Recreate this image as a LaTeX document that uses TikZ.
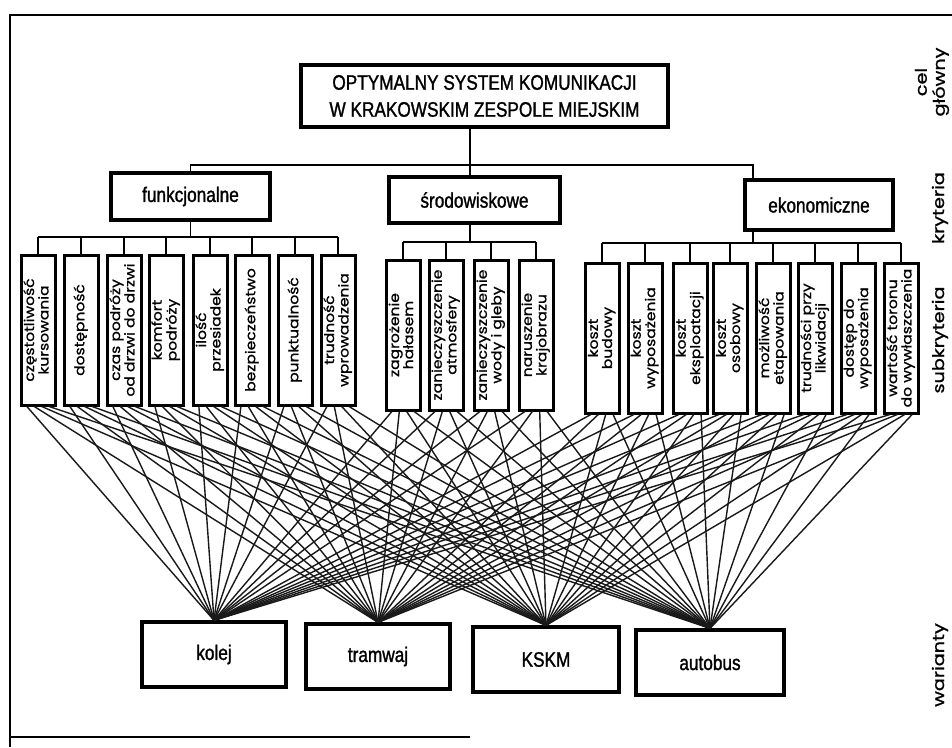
\documentclass[tikz,border=0pt]{standalone}
\usepackage{fontspec}
\setmainfont{Liberation Sans}
\newfontfamily\narrowsf[FakeStretch=0.82,FakeBold=1.3]{Liberation Sans}
\newfontfamily\geosf[FakeStretch=1.15,FakeBold=0.9]{Poppins}
\newfontfamily\lblsf[FakeStretch=1.2,FakeBold=1.0]{Poppins}
\usetikzlibrary{calc}
\newcommand\subnode[4]{\node[subbox] (#1) at (#2,#3+75) {\rotatebox{90}{\geosf\fontsize{13.5}{13.8}\selectfont\begin{tabular}{@{}c@{}}#4\end{tabular}}};}
\begin{document}
\begin{tikzpicture}[x=1pt,y=-1pt,
  tree/.style={line width=1.3pt},
  link/.style={line width=1.4pt, black!90},
  bigbox/.style={draw, line width=3.3pt, inner sep=0pt, align=center,
    font=\narrowsf\fontsize{21}{27}\selectfont},
  subbox/.style={draw, line width=3pt, inner sep=0pt, minimum width=34pt, minimum height=150pt},
  sidelbl/.style={rotate=90, align=center, inner sep=0pt,
    font=\lblsf\fontsize{16}{18}\selectfont}
]
\useasboundingbox (0,0) rectangle (952,747);
\fill[white] (0,0) rectangle (952,747);

% frame
\draw[line width=2.2pt] (952,15) -- (10,15) -- (10,747);
\draw[line width=2.8pt] (10,737) -- (470,737);

% main goal
\node[bigbox, minimum width=367pt, minimum height=62pt] (title) at (484.5,96)
  {OPTYMALNY SYSTEM KOMUNIKACJI\\W KRAKOWSKIM ZESPOLE MIEJSKIM};

% criteria
\node[bigbox, minimum width=159pt, minimum height=47pt] (fun) at (190.5,196.5) {funkcjonalne};
\node[bigbox, minimum width=171pt, minimum height=46pt] (sro) at (474.5,200) {środowiskowe};
\node[bigbox, minimum width=148pt, minimum height=50pt] (eko) at (819,205) {ekonomiczne};

\coordinate (topL) at (190.5,165);
\coordinate (topM) at (470,165);
\coordinate (topR) at (753,165);
\draw[tree] (title.south -| topM) -- (sro.north -| topM);
\draw[tree] (fun.north) -- (topL) -- (topR) -- (eko.north -| topR);

% subcriteria: functional
\subnode{f1}{38}{255}{częstotliwość\\kursowania}
\subnode{f2}{81}{255}{dostępność}
\subnode{f3}{124}{255}{czas podróży\\od drzwi do drzwi}
\subnode{f4}{166}{255}{komfort\\podróży}
\subnode{f5}{210}{255}{ilość\\przesiadek}
\subnode{f6}{252}{255}{bezpieczeństwo}
\subnode{f7}{295}{255}{punktualność}
\subnode{f8}{338}{255}{trudność\\wprowadzenia}
% environmental
\subnode{s1}{403}{260}{zagrożenie\\hałasem}
\subnode{s2}{446}{260}{zanieczyszczenie\\atmosfery}
\subnode{s3}{491}{260}{zanieczyszczenie\\wody i gleby}
\subnode{s4}{536}{260}{naruszenie\\krajobrazu}
% economic
\subnode{e1}{602}{263}{koszt\\budowy}
\subnode{e2}{645}{263}{koszt\\wyposażenia}
\subnode{e3}{690}{263}{koszt\\eksploatacji}
\subnode{e4}{730}{263}{koszt\\osobowy}
\subnode{e5}{773}{263}{możliwość\\etapowania}
\subnode{e6}{815}{263}{trudności przy\\likwidacji}
\subnode{e7}{858}{263}{dostęp do\\wyposażenia}
\subnode{e8}{901}{263}{wartość toronu\\do wywłaszczenia}

% sub-trees
\coordinate (fbar) at (190.5,237);
\coordinate (sbar) at (470,242);
\coordinate (ebar) at (753,243);
\draw[tree] (fun.south) -- (fbar);
\draw[tree] (sro.south -| sbar) -- (sbar);
\draw[tree] (eko.south -| ebar) -- (ebar);
\draw[tree] (f1.north |- fbar) -- (f8.north |- fbar);
\draw[tree] (s1.north |- sbar) -- (s4.north |- sbar);
\draw[tree] (e1.north |- ebar) -- (e8.north |- ebar);
\foreach \i in {f1,f2,f3,f4,f5,f6,f7,f8}{\draw[tree] (\i.north |- fbar) -- (\i.north);}
\foreach \i in {s1,s2,s3,s4}{\draw[tree] (\i.north |- sbar) -- (\i.north);}
\foreach \i in {e1,e2,e3,e4,e5,e6,e7,e8}{\draw[tree] (\i.north |- ebar) -- (\i.north);}

% variants
\node[bigbox, minimum width=144pt, minimum height=65pt] (kolej) at (214,654.5) {kolej};
\node[bigbox, minimum width=144pt, minimum height=65pt] (tramwaj) at (378,656.5) {tramwaj};
\node[bigbox, minimum width=146pt, minimum height=65pt] (kskm) at (546,659.5) {KSKM};
\node[bigbox, minimum width=148pt, minimum height=65pt] (autobus) at (710,662.5) {autobus};

% links
\foreach \s in {f1,f2,f3,f4,f5,f6,f7,f8,s1,s2,s3,s4,e1,e2,e3,e4,e5,e6,e7,e8}{
  \foreach \v/\t in {kolej/0.2,tramwaj/0.4,kskm/0.6,autobus/0.8}{
    \draw[link] ($(\s.south west)!\t!(\s.south east)$) -- (\v.north);
  }
}

% level labels
\node[sidelbl] (cel) at (932,82) {cel\\główny};
\node[sidelbl] (kryt) at (940,208) {kryteria};
\node[sidelbl] (subkryt) at (940,340) {subkryteria};
\node[sidelbl] (war) at (940,665) {warianty};
\end{tikzpicture}
\end{document}
